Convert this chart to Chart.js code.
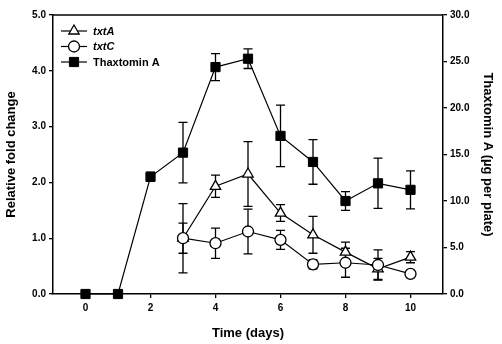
<!DOCTYPE html>
<html lang="en">
<head>
  <meta charset="UTF-8">
  <title>txtA / txtC / Thaxtomin A time course</title>
  <script src="https://cdn.jsdelivr.net/npm/chart.js"></script>
  <style>
    html, body { margin: 0; padding: 0; background: #fff; }
    #wrap { width: 502px; height: 344px; position: relative; }
  </style>
</head>
<body>
<div id="wrap"><canvas id="chart"></canvas></div>
<script>
// time points (days) and tick labels
const days = [0, 1, 2, 3, 4, 5, 6, 7, 8, 9, 10];
const xTicks = [0, 2, 4, 6, 8, 10];

// relative fold change (left axis)
const txtA    = [null, null, null, 1.00, 1.93, 2.15, 1.45, 1.06, 0.75, 0.45, 0.66];
const txtAErr = [null, null, null, 0.62, 0.20, 0.58, 0.15, 0.33, 0.18, 0.19, 0.10];
const txtC    = [null, null, null, 1.00, 0.91, 1.12, 0.97, 0.53, 0.56, 0.52, 0.36];
const txtCErr = [null, null, null, 0.27, 0.27, 0.40, 0.17, 0.08, 0.26, 0.27, 0];

// thaxtomin A, ug per plate (right axis)
const thax    = [0, 0, 12.6, 15.2, 24.4, 25.3, 17.0, 14.2, 10.0, 11.9, 11.2];
const thaxErr = [0, 0, 0.5, 3.25, 1.45, 1.05, 3.3, 2.4, 1.0, 2.7, 2.05];

const legendOrder = ['txtA', 'txtC', 'Thaxtomin A'];

const FONT = '"Liberation Sans", Arial, sans-serif';
const pts = vals => days.map((d, i) => ({ x: d, y: vals[i] }));

const errorBars = {
  id: 'errorBars',
  beforeDatasetsDraw(chart) {
    const ctx = chart.ctx;
    const xs = chart.scales.x;
    ctx.save();
    ctx.strokeStyle = '#000';
    ctx.lineWidth = 1.3;
    chart.data.datasets.forEach(ds => {
      const ys = chart.scales[ds.yAxisID];
      ds.err.forEach((e, i) => {
        const v = ds.data[i].y;
        if (v == null || !e) return;
        const px = xs.getPixelForValue(days[i]);
        const top = ys.getPixelForValue(v + e);
        const bot = ys.getPixelForValue(v - e);
        ctx.beginPath();
        ctx.moveTo(px, top); ctx.lineTo(px, bot);
        ctx.moveTo(px - 4.5, top); ctx.lineTo(px + 4.5, top);
        ctx.moveTo(px - 4.5, bot); ctx.lineTo(px + 4.5, bot);
        ctx.stroke();
      });
    });
    ctx.restore();
  }
};

const frameAndLegend = {
  id: 'frameAndLegend',
  afterDraw(chart) {
    const ctx = chart.ctx;
    const a = chart.chartArea;
    ctx.save();
    ctx.strokeStyle = '#000';
    ctx.lineWidth = 1.5;
    ctx.beginPath();
    ctx.moveTo(a.left, a.top); ctx.lineTo(a.right, a.top);
    ctx.stroke();

    legendOrder.forEach((label, i) => {
      const ds = chart.data.datasets.find(d => d.label === label);
      const font = (label === 'Thaxtomin A' ? 'bold 11px ' : 'italic bold 11px ') + FONT;
      const y = a.top + 16 + i * 15.5;
      const x0 = a.left + 8;
      ctx.strokeStyle = '#000';
      ctx.lineWidth = 1.2;
      ctx.beginPath();
      ctx.moveTo(x0, y); ctx.lineTo(x0 + 26, y);
      ctx.stroke();
      ctx.fillStyle = ds.pointBackgroundColor;
      ctx.strokeStyle = '#000';
      ctx.lineWidth = ds.pointBorderWidth;
      Chart.helpers.drawPoint(ctx, { pointStyle: ds.pointStyle, radius: ds.pointRadius, borderWidth: ds.pointBorderWidth, rotation: 0 }, x0 + 13, y);
      ctx.fillStyle = '#000';
      ctx.font = font;
      ctx.textBaseline = 'middle';
      ctx.fillText(ds.label, x0 + 32, y + 0.5);
    });
    ctx.restore();
  }
};

const tickFont = { family: FONT, size: 10, weight: 'bold' };
const titleFont = { family: FONT, size: 13, weight: 'bold' };
const gridOpts = { drawOnChartArea: false, drawTicks: true, tickLength: 4, color: '#000', lineWidth: 1.3 };
const borderOpts = { color: '#000', width: 1.5 };

new Chart(document.getElementById('chart'), {
  type: 'line',
  data: {
    datasets: [
      { label: 'txtC', data: pts(txtC), err: txtCErr, yAxisID: 'y', order: 0,
        borderColor: '#000', borderWidth: 1.2, pointStyle: 'circle', pointRadius: 5.5,
        pointBackgroundColor: '#fff', pointBorderColor: '#000', pointBorderWidth: 1.3 },
      { label: 'txtA', data: pts(txtA), err: txtAErr, yAxisID: 'y', order: 1,
        borderColor: '#000', borderWidth: 1.2, pointStyle: 'triangle', pointRadius: 6,
        pointBackgroundColor: '#fff', pointBorderColor: '#000', pointBorderWidth: 1.3 },
      { label: 'Thaxtomin A', data: pts(thax), err: thaxErr, yAxisID: 'y2', order: 2,
        borderColor: '#000', borderWidth: 1.2, pointStyle: 'rect', pointRadius: 6.5,
        pointBackgroundColor: '#000', pointBorderColor: '#000', pointBorderWidth: 1 }
    ].map(d => Object.assign(d, { clip: false, tension: 0, spanGaps: true, fill: false }))
  },
  options: {
    responsive: true,
    maintainAspectRatio: false,
    animation: false,
    layout: { padding: { top: 15, left: 0, right: 0, bottom: 0 } },
    plugins: { legend: { display: false }, tooltip: { enabled: false } },
    scales: {
      x: {
        type: 'linear', min: -1, max: 11,
        afterBuildTicks: s => { s.ticks = xTicks.map(v => ({ value: v })); },
        afterFit: s => { s.height = 50; },
        ticks: { font: tickFont, color: '#000', padding: 4, callback: v => String(v) },
        grid: gridOpts, border: borderOpts,
        title: { display: true, text: 'Time (days)', font: titleFont, color: '#000', padding: { top: 0, bottom: 3 } }
      },
      y: {
        position: 'left', min: 0, max: 5,
        afterFit: s => { s.width = 53; },
        ticks: { stepSize: 1, font: tickFont, color: '#000', padding: 3, callback: v => v.toFixed(1) },
        grid: gridOpts, border: borderOpts,
        title: { display: true, text: 'Relative fold change', font: titleFont, color: '#000', padding: { top: 4, bottom: 0 } }
      },
      y2: {
        position: 'right', min: 0, max: 30,
        afterFit: s => { s.width = 59; },
        ticks: { stepSize: 5, font: tickFont, color: '#000', padding: 3, callback: v => v.toFixed(1) },
        grid: gridOpts, border: borderOpts,
        title: { display: true, text: 'Thaxtomin A (µg per plate)', font: titleFont, color: '#000', padding: { top: 7, bottom: 0 } }
      }
    }
  },
  plugins: [errorBars, frameAndLegend]
});
</script>
</body>
</html>
